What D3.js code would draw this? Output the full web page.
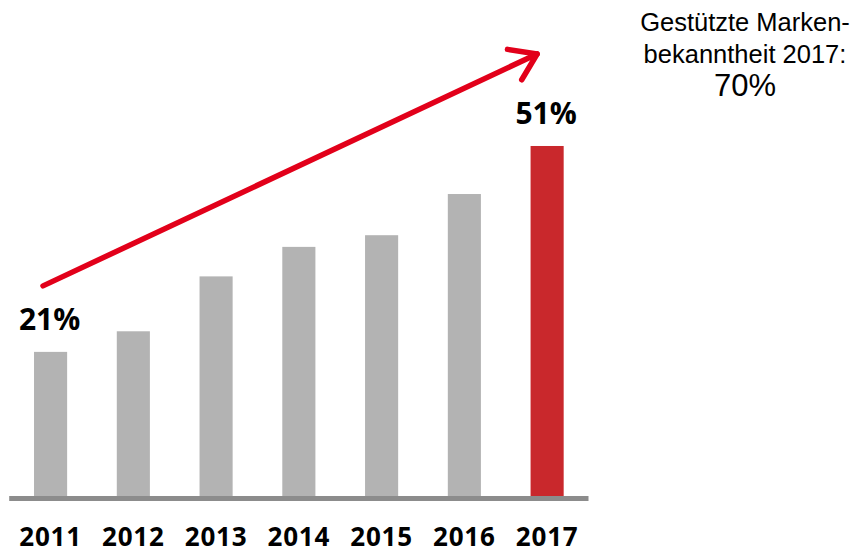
<!DOCTYPE html>
<html>
<head>
<meta charset="utf-8">
<script src="https://cdn.jsdelivr.net/npm/d3@7/dist/d3.min.js"></script>
<style>
  html, body { margin: 0; padding: 0; background: #fff; }
  svg { display: block; }
</style>
</head>
<body>
<svg id="chart" width="857" height="553"></svg>
<script>
const years = ["2011", "2012", "2013", "2014", "2015", "2016", "2017"];
const values = [21, 24, 32, 36.3, 38, 44, 51];
const labelledYears = ["2011", "2017"];
const noteLines = ["Gestützte Marken-", "bekanntheit 2017:"];
const noteValue = "70%";

const svg = d3.select("#chart");

const x = d3.scaleBand().domain(years).range([9.2, 588.5]).paddingInner(0.6).paddingOuter(0.3);
const y = d3.scaleLinear().domain([0, 60]).range([496, 496 - 60 * 6.863]);

const grey = "#b3b3b3", red = "#c9282c", arrowRed = "#e2001a";

// bars
svg.append("g").selectAll("rect").data(years).join("rect")
  .attr("x", d => x(d))
  .attr("width", x.bandwidth())
  .attr("y", (d, i) => y(values[i]))
  .attr("height", (d, i) => y(0) - y(values[i]))
  .attr("fill", d => d === "2017" ? red : grey);

// baseline axis line
svg.append("line")
  .attr("x1", x.range()[0]).attr("x2", x.range()[1])
  .attr("y1", y(0) + 2.5).attr("y2", y(0) + 2.5)
  .attr("stroke", "#8c8c8c").attr("stroke-width", 5);

// x axis labels
const xAxis = d3.axisBottom(x).tickSize(0).tickPadding(0);
const gx = svg.append("g").attr("transform", `translate(0, ${y(0)})`).call(xAxis);
gx.select(".domain").remove();
gx.selectAll("text")
  .attr("dy", null)
  .attr("y", 50)
  .attr("font-family", "'Open Sans', sans-serif")
  .attr("font-weight", "bold")
  .attr("font-size", 26)
  .attr("letter-spacing", 0.8)
  .attr("fill", "#000");

// value labels for first and last
svg.append("g").selectAll("text").data(labelledYears).join("text")
  .attr("x", d => x(d) + x.bandwidth() / 2 - 1)
  .attr("y", d => y(values[years.indexOf(d)]) - 22)
  .attr("text-anchor", "middle")
  .attr("font-family", "'Open Sans', sans-serif")
  .attr("font-weight", "bold")
  .attr("font-size", 30)
  .attr("fill", "#000")
  .text(d => values[years.indexOf(d)] + "%");

// trend arrow
const x0 = x("2011") + 9, y0 = y(values[0]) - 66;
const x1 = x("2017") + x.bandwidth() / 2 - 10, y1 = y(values[6]) - 92;
svg.append("line")
  .attr("x1", x0).attr("y1", y0).attr("x2", x1).attr("y2", y1)
  .attr("stroke", arrowRed).attr("stroke-width", 5.5).attr("stroke-linecap", "round");
const ang = Math.atan2(y0 - y1, x0 - x1);
const armLen = 30, spread = 34 * Math.PI / 180;
const a1 = [x1 + armLen * Math.cos(ang + spread), y1 + armLen * Math.sin(ang + spread)];
const a2 = [x1 + armLen * Math.cos(ang - spread), y1 + armLen * Math.sin(ang - spread)];
svg.append("path")
  .attr("d", `M${a1[0]},${a1[1]}L${x1},${y1}L${a2[0]},${a2[1]}`)
  .attr("fill", "none").attr("stroke", arrowRed).attr("stroke-width", 5.5)
  .attr("stroke-linecap", "round").attr("stroke-linejoin", "round");

// note
const note = svg.append("text")
  .attr("text-anchor", "middle")
  .attr("font-family", "'Liberation Sans', Arial, sans-serif")
  .attr("fill", "#000");
noteLines.forEach((t, i) => {
  note.append("tspan").attr("x", 745).attr("y", 31 + i * 32).attr("font-size", 25.5).text(t);
});
note.append("tspan").attr("x", 745).attr("y", 96).attr("font-size", 31).text(noteValue);
</script>
</body>
</html>
